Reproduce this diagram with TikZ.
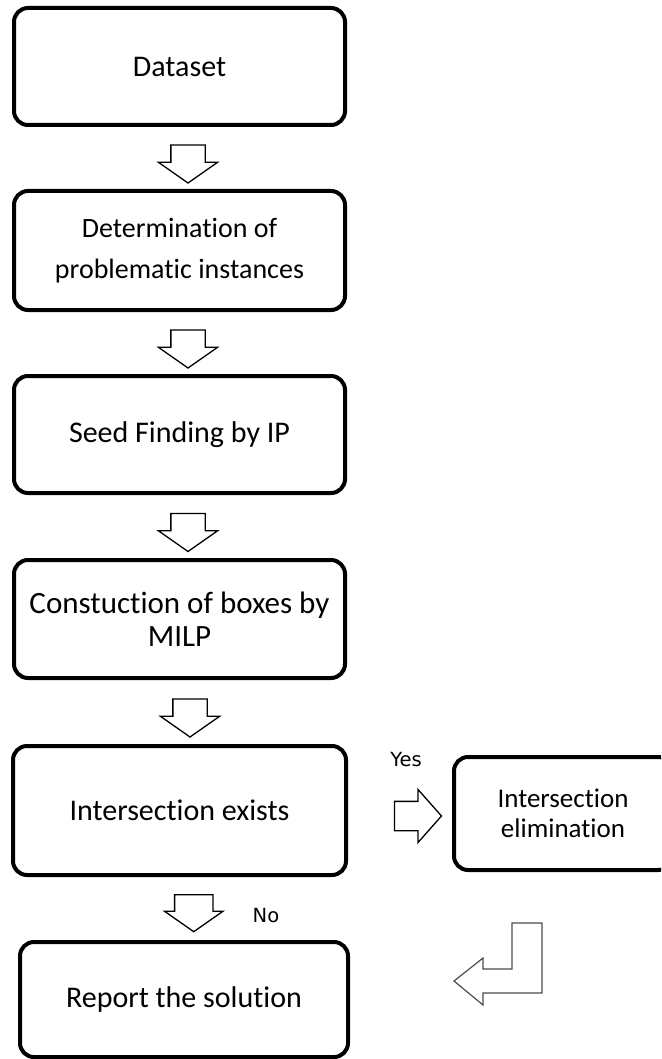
\documentclass[tikz,border=0pt]{standalone}
\usepackage{fontspec}
\setmainfont{Carlito}[Ligatures=NoCommon]
\newfontfamily\labelfont{DejaVu Sans}
\usetikzlibrary{shapes.arrows, calc}

\begin{document}
\begin{tikzpicture}[x=1pt, y=-1pt,
  box/.style={rectangle, draw=black, line width=4pt, rounded corners=14pt,
              minimum width=331pt, minimum height=117pt, align=center,
              inner sep=0pt, font=\fontsize{30}{40}\selectfont},
  downarr/.style={single arrow, draw=black, line width=1.3pt,
                  inner xsep=16.5pt, inner ysep=0pt,
                  minimum height=38pt, minimum width=58pt,
                  single arrow head extend=12.5pt, single arrow tip angle=110,
                  shape border rotate=270},
  rightarr/.style={single arrow, draw=black, line width=1.3pt,
                   inner xsep=0pt, inner ysep=14pt,
                   minimum height=47pt, minimum width=52pt,
                   single arrow head extend=12pt, single arrow tip angle=97},
  bentarr/.style={draw=black!70, line width=1.2pt, line join=miter},
  lbl/.style={font=\labelfont\fontsize{19.5}{22}\selectfont}
]
\path[use as bounding box, clip] (0,0) rectangle (661,1059);

% main column
\node[box] (dataset) at (179.5,66.5) {Dataset};
\node[box, minimum height=119pt, font=\fontsize{28}{41}\selectfont] (determ) at (179.5,250.5) {Determination of\\problematic instances};
\node[box] (seed) at (179.5,434.5) {Seed Finding by IP};
\node[box, minimum height=118pt, font=\fontsize{31}{33}\selectfont] (milp) at (179.5,619) {Constuction of boxes by\\MILP};
\node[box, minimum width=333pt, minimum height=129pt] (exists) at (179.5,810.5) {Intersection exists};
\node[box, minimum width=328pt, minimum height=115pt] (report) at (184,999.5) {Report the solution};
% side box
\node[box, minimum width=218pt, minimum height=113pt, font=\fontsize{27}{30}\selectfont] (elim) at (563,813.5) {Intersection\\elimination};

% block arrows
\node[downarr, xshift=8.5pt] (a1) at ($(dataset.south)!0.5!(determ.north)$) {};
\node[downarr, xshift=8.5pt] (a2) at ($(determ.south)!0.5!(seed.north)$) {};
\node[downarr, xshift=8.5pt] (a3) at ($(seed.south)!0.5!(milp.north)$) {};
\node[downarr, xshift=10.5pt] (a4) at ($(milp.south)!0.5!(exists.north)$) {};
\node[downarr, xshift=12pt, yshift=2pt, inner xsep=18.5pt, minimum width=57pt,
      minimum height=37pt, single arrow head extend=10pt] (a5) at ($(exists.south)!0.5!(report.north)$) {};
\node[rightarr, xshift=11.5pt, yshift=-4pt] (a6) at ($(exists.east)!0.5!(elim.west)$) {};

\node[lbl] (yes) at (406,760) {Yes};
\node[lbl] (no) at (266,916) {No};

% return arrow
\draw[bentarr] (512,923) -- (542,923) -- (542,993) -- (483,993) -- (483,1005)
  -- (454,981) -- (483,958) -- (483,969) -- (512,969) -- cycle;
\end{tikzpicture}
\end{document}
